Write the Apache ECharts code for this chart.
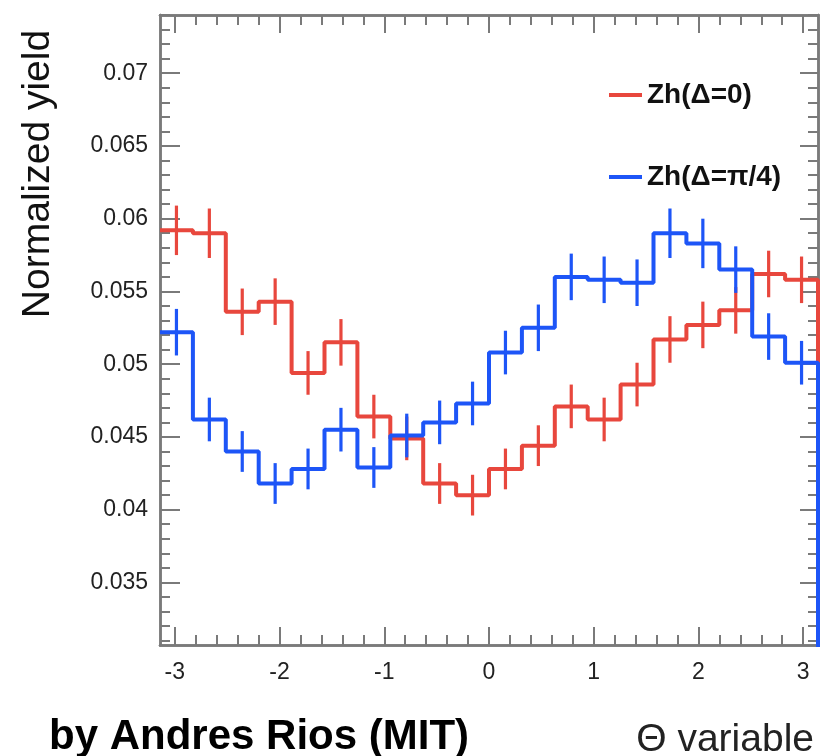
<!DOCTYPE html>
<html>
<head>
<meta charset="utf-8">
<script src="https://cdn.jsdelivr.net/npm/echarts@6/dist/echarts.min.js"></script>
<style>
  html, body { margin: 0; padding: 0; background: #fff; }
  #chart { width: 821px; height: 756px; }
</style>
</head>
<body>
<div id="chart"></div>
<script>
// histogram: 20 bins over [-pi, pi]
var nBins = 20;
var xMin = -Math.PI, xMax = Math.PI;

var redName = 'Zh(Δ=0)';
var blueName = 'Zh(Δ=π/4)';

// bin contents
var redValues = [0.0592, 0.0590, 0.0536, 0.0543, 0.0494, 0.0515, 0.0464, 0.0449, 0.0418, 0.0410,
                 0.0428, 0.0444, 0.0471, 0.0462, 0.0486, 0.0517, 0.0527, 0.0537, 0.0562, 0.0558];
var redErrors = [0.0017, 0.0017, 0.0016, 0.0016, 0.0015, 0.0016, 0.0015, 0.0015, 0.0014, 0.0014,
                 0.0014, 0.0014, 0.0015, 0.0015, 0.0015, 0.0016, 0.0016, 0.0016, 0.0016, 0.0016];
var blueValues = [0.0522, 0.0462, 0.0440, 0.0418, 0.0428, 0.0455, 0.0429, 0.0451, 0.0460, 0.0473,
                  0.0508, 0.0525, 0.0560, 0.0558, 0.0556, 0.0590, 0.0583, 0.0565, 0.0519, 0.0501];
var blueErrors = [0.0016, 0.0015, 0.0014, 0.0014, 0.0014, 0.0015, 0.0014, 0.0015, 0.0015, 0.0015,
                  0.0015, 0.0016, 0.0016, 0.0016, 0.0016, 0.0017, 0.0017, 0.0016, 0.0016, 0.0015];

// tick labels
var xMajorTicks = [-3, -2, -1, 0, 1, 2, 3];
var yMajorTicks = [0.035, 0.04, 0.045, 0.05, 0.055, 0.06, 0.065, 0.07];
var yMin = 0.0307, yMax = 0.0740;

var FONT = 'Liberation Sans';
var RED = '#e8473d';
var BLUE = '#1d55f7';
var FRAME = '#7a7a7a';

// minor ticks: 5 divisions between majors
var xMinorTicks = [];
for (var i = -15; i <= 15; i++) xMinorTicks.push(+(i * 0.2).toFixed(2));
var yMinorTicks = [];
for (var j = 31; j <= 74; j++) yMinorTicks.push(+(j * 0.001).toFixed(3));

var binW = (xMax - xMin) / nBins;
var edges = [];
for (var k = 0; k <= nBins; k++) edges.push(xMin + k * binW);

function stepData(values) {
    var pts = [];
    for (var b = 0; b < values.length; b++) {
        pts.push([edges[b], values[b]]);
        pts.push([edges[b + 1], values[b]]);
    }
    pts.push([edges[nBins], 0]);
    return pts;
}

function errData(values, errs) {
    return values.map(function (v, b) {
        return [edges[b] + binW / 2, v, errs[b]];
    });
}

function errRender(color) {
    return function (params, api) {
        var x = api.value(0), y = api.value(1), e = api.value(2);
        var p1 = api.coord([x, y - e]);
        var p2 = api.coord([x, y + e]);
        return {
            type: 'line',
            shape: { x1: p1[0], y1: p1[1], x2: p2[0], y2: p2[1] },
            style: { stroke: color, lineWidth: 3.2 }
        };
    };
}

function xAxisDef(pos, ticks, len, labels) {
    return {
        type: 'value', position: pos, min: xMin, max: xMax,
        axisLine: { show: true, onZero: false, lineStyle: { color: FRAME, width: 2.5 } },
        axisTick: { show: true, inside: true, length: len, customValues: ticks,
                    lineStyle: { color: FRAME, width: 2 } },
        axisLabel: labels ? { show: true, customValues: xMajorTicks, margin: 16,
                              fontFamily: FONT, fontSize: 23, color: '#222' } : { show: false },
        splitLine: { show: false }
    };
}

function yAxisDef(pos, ticks, len, labels) {
    return {
        type: 'value', position: pos, min: yMin, max: yMax,
        axisLine: { show: true, onZero: false, lineStyle: { color: FRAME, width: 2.5 } },
        axisTick: { show: true, inside: true, length: len, customValues: ticks,
                    lineStyle: { color: FRAME, width: 2 } },
        axisLabel: labels ? { show: true, customValues: yMajorTicks, margin: 12,
                              fontFamily: FONT, fontSize: 23, color: '#222' } : { show: false },
        splitLine: { show: false }
    };
}

var option = {
    animation: false,
    backgroundColor: '#fff',
    grid: { left: 160, right: 3, top: 15, bottom: 111, containLabel: false },
    xAxis: [
        xAxisDef('bottom', xMajorTicks, 18, true),
        xAxisDef('bottom', xMinorTicks, 10, false),
        xAxisDef('top', xMajorTicks, 18, false),
        xAxisDef('top', xMinorTicks, 10, false)
    ],
    yAxis: [
        yAxisDef('left', yMajorTicks, 20, true),
        yAxisDef('left', yMinorTicks, 10, false),
        yAxisDef('right', yMajorTicks, 18, false),
        yAxisDef('right', yMinorTicks, 10, false)
    ],
    legend: {
        data: [redName, blueName],
        orient: 'vertical', left: 609, top: 80, itemGap: 52, padding: 0,
        itemWidth: 33, itemHeight: 4, icon: 'rect', selectedMode: false,
        textStyle: { fontFamily: FONT, fontSize: 28, fontWeight: 'bold', color: '#111', lineHeight: 30 }
    },
    title: [
        { text: 'by Andres Rios (MIT)', left: 44, top: 711,
          textStyle: { fontFamily: FONT, fontSize: 42, fontWeight: 'bold', color: '#000' } },
        { text: 'Θ variable', right: 2, top: 716,
          textStyle: { fontFamily: FONT, fontSize: 39, fontWeight: 'normal', color: '#222' } }
    ],
    graphic: [
        { type: 'text', x: 38, y: 174, rotation: Math.PI / 2,
          style: { text: 'Normalized yield', fontFamily: FONT, fontSize: 39,
                   fill: '#111', align: 'center', verticalAlign: 'middle' } }
    ],
    series: [
        { name: redName, type: 'line', data: stepData(redValues), showSymbol: false, symbol: 'none',
          color: RED, lineStyle: { color: RED, width: 4 }, z: 2 },
        { name: redName, type: 'custom', data: errData(redValues, redErrors),
          renderItem: errRender(RED), encode: { x: 0, y: 1 }, z: 3 },
        { name: blueName, type: 'line', data: stepData(blueValues), showSymbol: false, symbol: 'none',
          color: BLUE, lineStyle: { color: BLUE, width: 4 }, z: 4 },
        { name: blueName, type: 'custom', data: errData(blueValues, blueErrors),
          renderItem: errRender(BLUE), encode: { x: 0, y: 1 }, z: 5 }
    ]
};

var chart = echarts.init(document.getElementById('chart'));
chart.setOption(option);
</script>
</body>
</html>
